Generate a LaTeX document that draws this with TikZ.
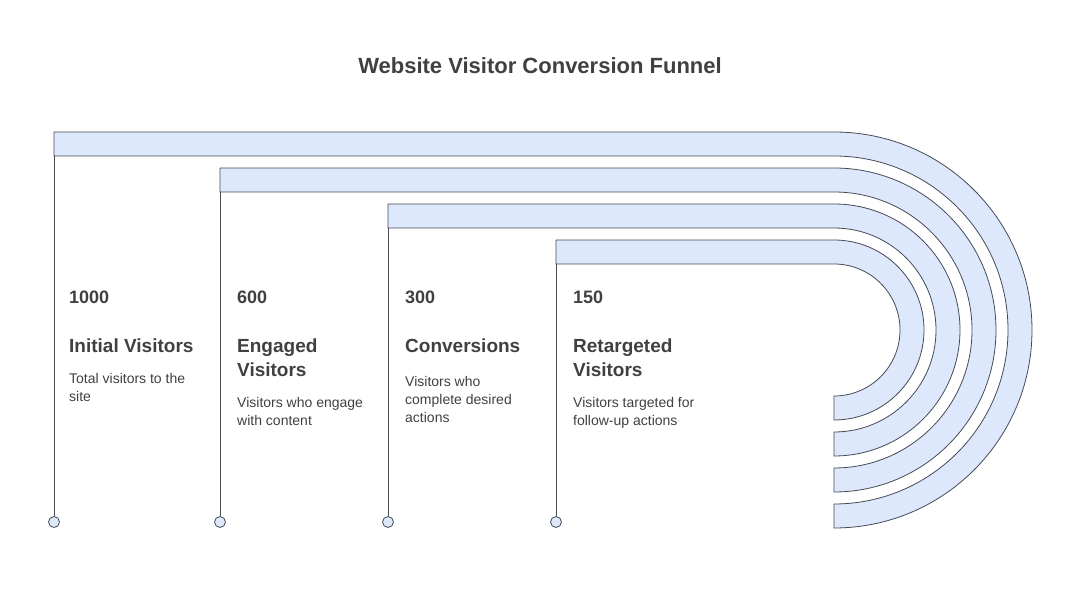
\documentclass[tikz,border=0pt]{standalone}
\usepackage{fontspec}
\setmainfont{Liberation Sans}
\definecolor{bandfill}{RGB}{221,232,252}
\definecolor{edgegray}{RGB}{70,74,84}
\definecolor{textgray}{RGB}{64,64,64}
\tikzset{
  band/.style={fill=bandfill,draw=edgegray,line width=0.8pt},
  stem/.style={draw=edgegray,line width=0.8pt},
  dot/.style={circle,fill=bandfill,draw=edgegray,line width=0.8pt,inner sep=0pt,minimum size=11pt},
  num/.style={anchor=north west,inner sep=0pt,font=\fontsize{18}{21}\selectfont\bfseries,text=textgray},
  head/.style={anchor=north west,inner sep=0pt,align=left,font=\fontsize{19}{24}\selectfont\bfseries,text=textgray},
  desc/.style={anchor=north west,inner sep=0pt,align=left,font=\fontsize{14}{18}\selectfont,text=textgray}
}
\begin{document}
\begin{tikzpicture}[x=1pt,y=1pt]
	\useasboundingbox (0,0) rectangle (1081,589);
	\node[font=\fontsize{22}{26}\selectfont\bfseries,text=textgray] (title) at (540,523) {Website Visitor Conversion Funnel};
	% bands
	\draw[band] (54,457) -- (834,457) arc[start angle=90,end angle=-90,radius=198] -- ++(0,24) arc[start angle=-90,end angle=90,radius=174] -- (54,433) -- cycle;
	\draw[band] (220,421) -- (834,421) arc[start angle=90,end angle=-90,radius=162] -- ++(0,24) arc[start angle=-90,end angle=90,radius=138] -- (220,397) -- cycle;
	\draw[band] (388,385) -- (834,385) arc[start angle=90,end angle=-90,radius=126] -- ++(0,24) arc[start angle=-90,end angle=90,radius=102] -- (388,361) -- cycle;
	\draw[band] (556,349) -- (834,349) arc[start angle=90,end angle=-90,radius=90] -- ++(0,24) arc[start angle=-90,end angle=90,radius=66] -- (556,325) -- cycle;
	% stems
	\coordinate (s1) at (54,433);
	\coordinate (s2) at (220,397);
	\coordinate (s3) at (388,361);
	\coordinate (s4) at (556,325);
	\node[dot] (d1) at (54,67) {};
	\node[dot] (d2) at (220,67) {};
	\node[dot] (d3) at (388,67) {};
	\node[dot] (d4) at (556,67) {};
	\draw[stem] (s1) -- (d1);
	\draw[stem] (s2) -- (d2);
	\draw[stem] (s3) -- (d3);
	\draw[stem] (s4) -- (d4);
	% labels
	\node[num] (n1) at (69,298) {1000};
	\node[num] (n2) at (237,298) {600};
	\node[num] (n3) at (405,298) {300};
	\node[num] (n4) at (573,298) {150};
	\node[head] (h1) at (69,250) {Initial Visitors};
	\node[head] (h2) at (237,250) {Engaged\\Visitors};
	\node[head] (h3) at (405,250) {Conversions};
	\node[head] (h4) at (573,250) {Retargeted\\Visitors};
	\node[desc] (t1) at (69,216) {Total visitors to the\\site};
	\node[desc] (t2) at (237,192) {Visitors who engage\\with content};
	\node[desc] (t3) at (405,213) {Visitors who\\complete desired\\actions};
	\node[desc] (t4) at (573,192) {Visitors targeted for\\follow-up actions};
\end{tikzpicture}
\end{document}
